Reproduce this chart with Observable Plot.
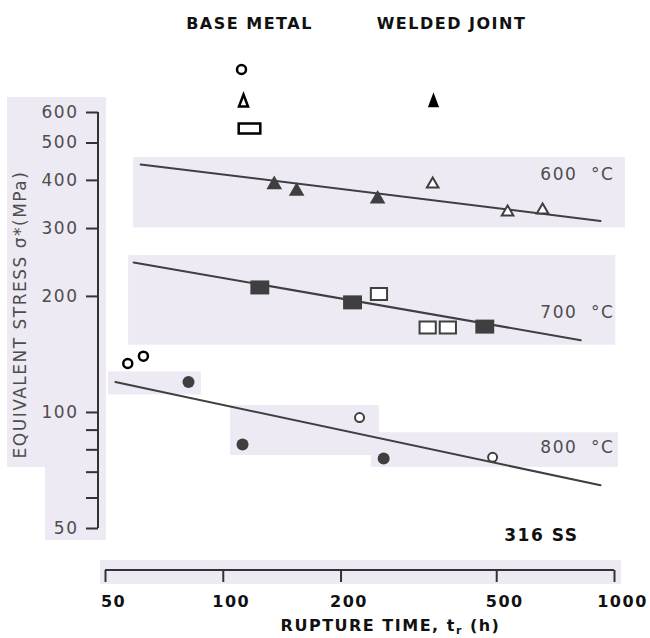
<!DOCTYPE html>
<html><head><meta charset="utf-8">
<script src="https://cdn.jsdelivr.net/npm/d3@7"></script>
<script src="https://cdn.jsdelivr.net/npm/@observablehq/plot@0.6"></script>
<style>
body{margin:0;background:#fff;}
</style></head><body><div id="chart"></div>
<script>
// ---- tick values / labels ----
const xTicks = [50, 100, 200, 500, 1000];
const yTicks = [50, 60, 70, 80, 90, 100, 200, 300, 400, 500, 600];
const yTickLabels = [50, 100, 200, 300, 400, 500, 600];

// ---- series (rupture time h, equivalent stress MPa) ----
const weld600T = [135, 154, 248];      const weld600S = [390, 375, 358];
const base600T = [343, 533, 655];      const base600S = [391, 331, 335];
const weld700T = [124, 214, 466];      const weld700S = [211, 193, 167];
const base700T = [250, 333, 375];      const base700S = [203, 166, 166];
const weld800T = [81.5, 112, 257];     const weld800S = [120, 82.6, 76];
const base800T = [223, 488];           const base800S = [97, 76.5];
const extra800T = [57, 62.5];          const extra800S = [134, 140];

// ---- fitted lines (end points) ----
const fit600T = [61.5, 921]; const fit600S = [440, 314];
const fit700T = [59, 820];   const fit700S = [245, 154];
const fit800T = [53, 921];   const fit800S = [120, 64.7];

// ---- annotations ----
const tempLabels = ["600\u00a0\u00a0°C", "700\u00a0\u00a0°C", "800\u00a0\u00a0°C"];
const tempLabelT = [1000, 1000, 1000];
const tempLabelS = [414, 182, 81];
const materialLabel = ["316 SS"]; const materialT = [650]; const materialS = [48];
const legendTitles = ["BASE METAL", "WELDED JOINT"];
const xTitle = "RUPTURE TIME, tr (h)";
const yTitle = "EQUIVALENT STRESS σ*(MPa)";

const pts = (T, S) => T.map((t, i) => ({t, s: S[i]}));

const FONT = "'DejaVu Sans', sans-serif";
const GRAY = "#3f3f3f";
const TXT = "#4d4d4d";
const LAV = "#eeeaf4";

// custom symbols
const rectSym = {draw(ctx, size) { const r = Math.sqrt(size / Math.PI); const w = 2.7 * r, h = 2 * r; ctx.rect(-w / 2, -h / 2, w, h); }};
const wideRectSym = {draw(ctx, size) { const r = Math.sqrt(size / Math.PI); const w = 3.6 * r, h = 1.7 * r; ctx.rect(-w / 2, -h / 2, w, h); }};
const tallTriSym = {draw(ctx, size) { const r = Math.sqrt(size / Math.PI); const hw = 0.9 * r, h = 2.4 * r; ctx.moveTo(0, -h / 2); ctx.lineTo(hw, h / 2); ctx.lineTo(-hw, h / 2); ctx.closePath(); }};

// background patches + axis lines, drawn through the scales
function backdrop(index, scales, values, dim) {
  const {x, y} = scales;
  const g = d3.create("svg:g");
  const axisX0 = dim.height - dim.marginBottom;
  const box = (x1, y1, x2, y2) => g.append("rect").attr("x", x1).attr("y", y1)
    .attr("width", x2 - x1).attr("height", y2 - y1).attr("fill", LAV);
  // y-axis patch
  box(7, y(600) - 15, dim.marginLeft + 8, y(72));
  box(45, y(600) - 15, dim.marginLeft + 8, y(50) + 12);
  // x-axis patch
  box(x(50) - 5, axisX0 - 10, x(1000) + 7, axisX0 + 14);
  // band around 600 °C
  box(x(fit600T[0]) - 7, y(fit600S[0]) - 7, x(fit600T[1]) + 25, y(fit600S[1]) + 7);
  // band around 700 °C
  box(x(fit700T[0]) - 5, y(fit700S[0]) - 7, x(fit700T[1]) + 35, y(fit700S[1]) + 5);
  // patches around 800 °C
  box(x(fit800T[0]) - 7, y(weld800S[0]) - 10, x(weld800T[0]) + 13, y(weld800S[0]) + 13);
  box(x(weld800T[1]) - 12, y(base800S[0]) - 12, x(base800T[0]) + 20, y(weld800S[1]) + 11);
  box(x(weld800T[2]) - 12, y(tempLabelS[2]) - 15, x(fit800T[1]) + 18, y(weld800S[2]) + 9);
  // axis lines
  g.append("line").attr("x1", dim.marginLeft).attr("x2", dim.marginLeft)
    .attr("y1", y(600)).attr("y2", y(50)).attr("stroke", "#333").attr("stroke-width", 2);
  g.append("line").attr("x1", x(50)).attr("x2", x(1000))
    .attr("y1", axisX0).attr("y2", axisX0).attr("stroke", "#333").attr("stroke-width", 2);
  return g.node();
}

const chart = Plot.plot({
  width: 650, height: 638,
  marginLeft: 98, marginRight: 36, marginTop: 0, marginBottom: 68,
  x: {type: "log", domain: [50, 1000], range: [105, 614], label: null},
  y: {type: "log", domain: [50, 600], range: [528, 112], label: null},
  style: {fontFamily: FONT, background: "#fff", letterSpacing: "1.5px", overflow: "visible"},
  marks: [
    backdrop,
    // axes (ticks)
    Plot.axisY(yTicks, {anchor: "left", tickSize: 12, tickFormat: () => "", stroke: "#333", strokeWidth: 2}),
    Plot.axisX(xTicks, {anchor: "bottom", tickSize: 12, tickFormat: () => "", stroke: "#333", strokeWidth: 2}),
    Plot.text(yTickLabels, {y: d => d, frameAnchor: "left", dx: -20, textAnchor: "end", lineAnchor: "middle", text: d => String(d), fontSize: 17, fill: TXT}),
    Plot.text(xTicks, {x: d => d, frameAnchor: "bottom", dx: 8, dy: 31, textAnchor: "middle", lineAnchor: "middle", text: d => String(d), fontSize: 16, fontWeight: "bold", fill: "#111"}),
    Plot.text([xTitle], {frameAnchor: "bottom", dx: 34, dy: 55, textAnchor: "middle", lineAnchor: "middle", text: d => d, fontSize: 16, fontWeight: "bold", fill: "#111"}),
    Plot.text([yTitle], {frameAnchor: "left", dx: -78, dy: 29, rotate: -90, textAnchor: "middle", lineAnchor: "middle", text: d => d, fontSize: 17, fill: TXT}),
    // fitted lines
    Plot.line(pts(fit600T, fit600S), {x: "t", y: "s", stroke: GRAY, strokeWidth: 2}),
    Plot.line(pts(fit700T, fit700S), {x: "t", y: "s", stroke: GRAY, strokeWidth: 2}),
    Plot.line(pts(fit800T, fit800S), {x: "t", y: "s", stroke: GRAY, strokeWidth: 2}),
    // 600 °C
    Plot.dot(pts(weld600T, weld600S), {x: "t", y: "s", symbol: "triangle", r: 5.8, fill: GRAY, stroke: "none"}),
    Plot.dot(pts(base600T, base600S), {x: "t", y: "s", symbol: "triangle", r: 4.3, fill: "#fff", stroke: GRAY, strokeWidth: 2}),
    // 700 °C
    Plot.dot(pts(weld700T, weld700S), {x: "t", y: "s", symbol: rectSym, r: 7, fill: GRAY, stroke: "none"}),
    Plot.dot(pts(base700T, base700S), {x: "t", y: "s", symbol: rectSym, r: 6, fill: "#fff", stroke: GRAY, strokeWidth: 2}),
    // 800 °C
    Plot.dot(pts(weld800T, weld800S), {x: "t", y: "s", symbol: "circle", r: 6, fill: GRAY, stroke: "none"}),
    Plot.dot(pts(base800T, base800S), {x: "t", y: "s", symbol: "circle", r: 4.5, fill: "#fff", stroke: GRAY, strokeWidth: 2}),
    Plot.dot(pts(extra800T, extra800S), {x: "t", y: "s", symbol: "circle", r: 4.5, fill: "none", stroke: "#000", strokeWidth: 2.5}),
    // temperature labels
    Plot.text(tempLabels, {x: (d, i) => tempLabelT[i], y: (d, i) => tempLabelS[i], text: d => d, textAnchor: "end", fontSize: 17, fill: TXT}),
    Plot.text(materialLabel, {x: (d, i) => materialT[i], y: (d, i) => materialS[i], text: d => d, fontSize: 17, fontWeight: "bold", fill: "#111"}),
    // legend
    Plot.text([legendTitles[0]], {frameAnchor: "top-left", dx: 151, dy: 23, textAnchor: "middle", lineAnchor: "middle", text: d => d, fontSize: 16, fontWeight: "bold", fill: "#111"}),
    Plot.text([legendTitles[1]], {frameAnchor: "top-left", dx: 353, dy: 23, textAnchor: "middle", lineAnchor: "middle", text: d => d, fontSize: 16, fontWeight: "bold", fill: "#111"}),
    Plot.dot([0], {frameAnchor: "top-left", dx: 143, dy: 69, symbol: "circle", r: 4.5, fill: "none", stroke: "#000", strokeWidth: 2.5}),
    Plot.dot([0], {frameAnchor: "top-left", dx: 145, dy: 100, symbol: tallTriSym, r: 5, fill: "#fff", stroke: "#000", strokeWidth: 2.5}),
    Plot.dot([0], {frameAnchor: "top-left", dx: 151, dy: 128, symbol: wideRectSym, r: 6, fill: "#fff", stroke: "#000", strokeWidth: 2.5}),
    Plot.dot([0], {frameAnchor: "top-left", dx: 335, dy: 100, symbol: tallTriSym, r: 5, fill: "#000", stroke: "#000", strokeWidth: 1.5})
  ]
});

// subscript r in the x-axis title
d3.select(chart).selectAll("text").filter(function() { return this.textContent === xTitle; })
  .each(function() {
    const t = d3.select(this); t.text("");
    t.append("tspan").text("RUPTURE TIME, t");
    t.append("tspan").attr("dy", 3).attr("font-size", 11).text("r");
    t.append("tspan").attr("dy", -3).text(" (h)");
  });

document.getElementById("chart").append(chart);
</script></body></html>
